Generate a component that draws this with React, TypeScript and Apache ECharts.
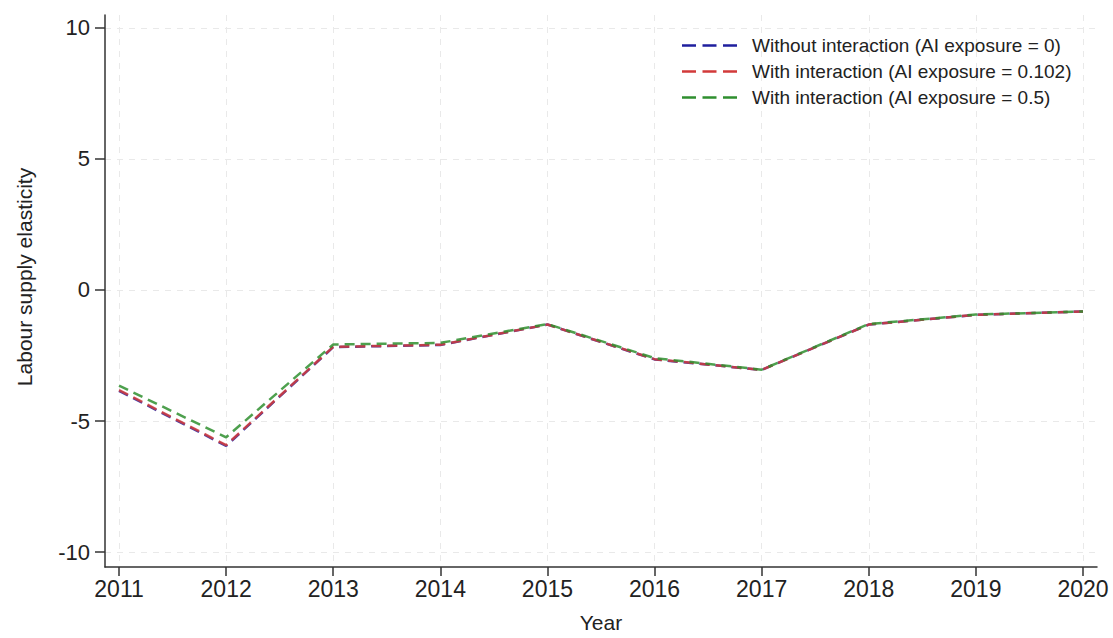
import React, { useEffect, useRef } from "react";
import * as echarts from "echarts";

const years = [2011, 2012, 2013, 2014, 2015, 2016, 2017, 2018, 2019, 2020];
const yTicks = [-10, -5, 0, 5, 10];
const seriesNames = [
  "Without interaction (AI exposure = 0)",
  "With interaction (AI exposure = 0.102)",
  "With interaction (AI exposure = 0.5)",
];
const noInteraction = [-3.85, -5.95, -2.18, -2.1, -1.32, -2.65, -3.05, -1.32, -0.95, -0.82];
const ai0102 = [-3.82, -5.92, -2.17, -2.09, -1.32, -2.64, -3.05, -1.32, -0.95, -0.82];
const ai05 = [-3.65, -5.62, -2.08, -2.02, -1.3, -2.6, -3.04, -1.3, -0.94, -0.82];
const colors = ["#1f1f9e", "#d23a3a", "#2f8f2f"];

const dashIcon = "path://M0,0h14v2.5h-14zM20.5,0h14v2.5h-14zM41,0h14v2.5h-14z";

export default function App() {
  const ref = useRef<HTMLDivElement>(null);
  useEffect(() => {
    if (!ref.current) return;
    const chart = echarts.init(ref.current, null, { renderer: "svg" });
    const font = "Liberation Sans, Arial, sans-serif";
    const data = [noInteraction, ai0102, ai05];
    chart.setOption({
      animation: false,
      backgroundColor: "#ffffff",
      textStyle: { fontFamily: font },
      grid: { left: 105, right: 16, top: 15, bottom: 66, containLabel: false },
      legend: {
        orient: "vertical",
        left: 677,
        top: 31,
        itemWidth: 55,
        itemHeight: 2.5,
        itemGap: 7,
        symbolKeepAspect: false,
        textStyle: { fontSize: 19, color: "#222", fontFamily: font, padding: [0, 0, 0, 10] },
        data: seriesNames.map((n) => ({ name: n, icon: dashIcon })),
      },
      xAxis: {
        type: "value",
        min: 2010.869,
        max: 2020.131,
        name: "Year",
        nameLocation: "middle",
        nameGap: 45,
        nameTextStyle: { fontSize: 21, color: "#222", fontFamily: font },
        axisLine: { show: true, onZero: false, lineStyle: { color: "#333", width: 1.5 } },
        axisTick: { show: true, length: 9, customValues: years, lineStyle: { color: "#333", width: 1.5 } },
        axisLabel: {
          customValues: years,
          fontSize: 23,
          color: "#222",
          margin: 10,
          fontFamily: font,
          formatter: (v: number) => String(v),
        },
        splitLine: { show: true, lineStyle: { color: "#e9e9e9", type: [6, 6], width: 1 } },
      },
      yAxis: {
        type: "value",
        min: -10.57,
        max: 10.49,
        name: "Labour supply elasticity",
        nameLocation: "middle",
        nameGap: 70,
        nameTextStyle: { fontSize: 21, color: "#222", fontFamily: font, padding: [0, 0, 0, 28] },
        axisLine: { show: true, onZero: false, lineStyle: { color: "#333", width: 1.5 } },
        axisTick: { show: true, length: 10, customValues: yTicks, lineStyle: { color: "#333", width: 1.5 } },
        axisLabel: {
          customValues: yTicks,
          fontSize: 22,
          color: "#222",
          margin: 15,
          fontFamily: font,
          formatter: (v: number) => String(v),
        },
        splitLine: { show: true, lineStyle: { color: "#e9e9e9", type: [6, 6], width: 1 } },
      },
      series: seriesNames.map((name, i) => ({
        name,
        type: "line",
        data: years.map((y, j) => [y, data[i][j]]),
        showSymbol: false,
        symbol: "none",
        color: colors[i],
        lineStyle: { color: colors[i], width: 2.5, type: [10, 6], opacity: 0.85 },
        z: 2 + i,
      })),
    });
    return () => chart.dispose();
  }, []);
  return (
    <div
      ref={ref}
      style={{ position: "fixed", left: 0, top: 0, width: 1113, height: 638 }}
    />
  );
}
